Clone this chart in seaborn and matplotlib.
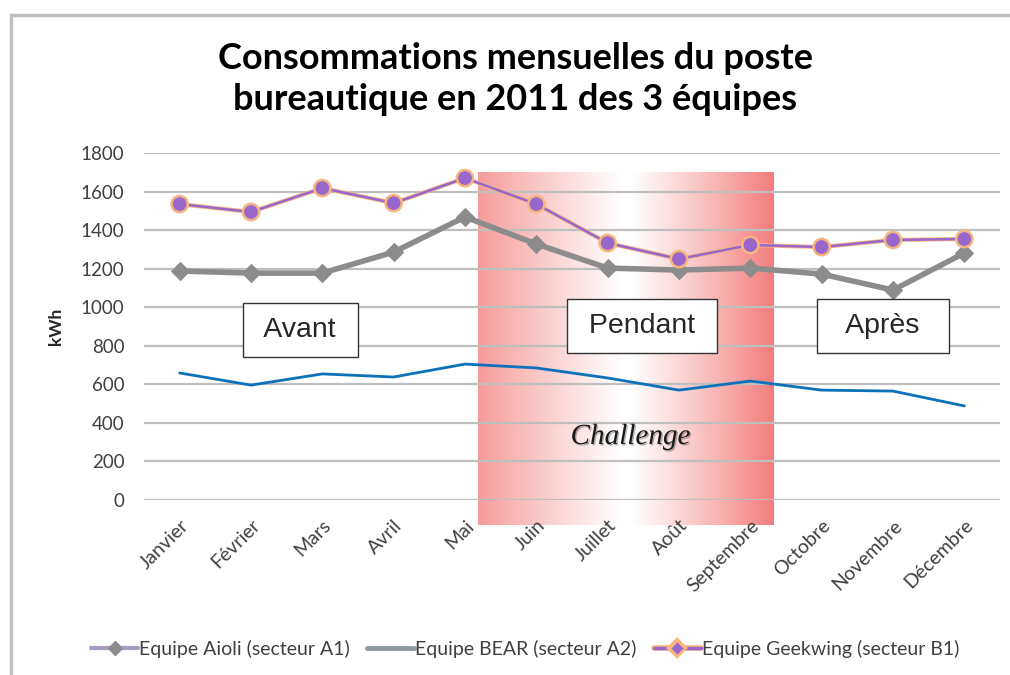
import numpy as np
import pandas as pd
import matplotlib
matplotlib.use("Agg")
import matplotlib.pyplot as plt
import matplotlib.patheffects as pe
from matplotlib.patches import Rectangle
from matplotlib.lines import Line2D
import seaborn as sns

MONTHS = ["Janvier", "Février", "Mars", "Avril", "Mai", "Juin", "Juillet",
          "Août", "Septembre", "Octobre", "Novembre", "Décembre"]
AIOLI = [1188, 1177, 1177, 1286, 1468, 1328, 1203, 1193, 1203, 1172, 1089, 1281]
BEAR = [659, 596, 654, 638, 705, 685, 633, 570, 617, 570, 565, 488]
GEEKWING = [1535, 1494, 1618, 1540, 1670, 1535, 1333, 1250, 1323, 1312, 1349, 1354]
LABELS = ["Equipe Aioli (secteur A1)", "Equipe BEAR (secteur A2)",
          "Equipe Geekwing (secteur B1)"]
Y_TICKS = [0, 200, 400, 600, 800, 1000, 1200, 1400, 1600, 1800]
CHALLENGE_START = "Mai"
CHALLENGE_END = "Septembre"

sns.set_style("white")
plt.rcParams["font.family"] = ["Lato", "DejaVu Sans"]

df = pd.DataFrame({"mois": np.arange(len(MONTHS)), "aioli": AIOLI,
                   "bear": BEAR, "geekwing": GEEKWING})

fig = plt.figure(figsize=(10.1, 6.75), dpi=100)
ax = fig.add_axes([144 / 1010, 175 / 675, 856 / 1010, 347 / 675])

# outer frame of the original chart
fig.patches.append(Rectangle((11 / 1010, -0.1), 1.2, 1 - 15 / 675 + 0.1,
                             transform=fig.transFigure, fill=False,
                             ec="#BFBFBF", lw=2.5))

# gradient band for the challenge period
x0 = MONTHS.index(CHALLENGE_START) + 0.18
x1 = MONTHS.index(CHALLENGE_END) + 0.32
t = np.linspace(0, 1, 400)
alpha = np.where(t < 0.49, 0.58 * (1 - t / 0.49) ** 1.1,
                 np.where(t > 0.51, 0.75 * ((t - 0.51) / 0.49) ** 1.1, 0))
rgba = np.zeros((1, len(t), 4))
rgba[..., 0] = 0.94
rgba[..., 1] = 0.32
rgba[..., 2] = 0.32
rgba[..., 3] = alpha
ax.imshow(rgba, extent=[x0, x1, -130, 1700], aspect="auto", zorder=0,
          clip_on=False, interpolation="bilinear")

orange = "#F7B77E"
sns.lineplot(data=df, x="mois", y="aioli", ax=ax, color="#8C8C8C", lw=4,
             marker="D", markersize=9, markeredgecolor="#8C8C8C", zorder=3)
sns.lineplot(data=df, x="mois", y="bear", ax=ax, color="#0B72B9", lw=2,
             zorder=3)
sns.lineplot(data=df, x="mois", y="geekwing", ax=ax, color="#9966CC", lw=1.8,
             marker="o", markersize=10.5, markeredgecolor=orange,
             markeredgewidth=0.6, zorder=4,
             path_effects=[pe.Stroke(linewidth=3.0, foreground=orange),
                           pe.Normal()])

ax.set_xlim(-0.5, len(MONTHS) - 0.5)
ax.set_ylim(0, 1800)
ax.set_yticks(Y_TICKS)
ax.set_xticks(df["mois"])
ax.set_xticklabels(MONTHS, rotation=45, ha="right", rotation_mode="anchor",
                   fontsize=14, color="#404040")
ax.tick_params(axis="y", labelsize=13.5, labelcolor="#404040", length=0, pad=14)
ax.tick_params(axis="x", length=0, pad=12)
ax.grid(axis="y", color="#BFBFBF", lw=1.6)
ax.set_axisbelow(True)
for s in ax.spines.values():
    s.set_visible(False)
ax.set_xlabel("")
ax.set_ylabel("kWh", fontsize=12.5, fontweight="bold", color="#262626",
              labelpad=12)

box = dict(boxstyle="square,pad=0.5", fc="white", ec="#333333", lw=1)
ax.text(1.69, 882, " Avant ", fontsize=20.5, ha="center", va="center",
        family=["Liberation Sans"], bbox=box, zorder=5)
ax.text(6.48, 902, " Pendant ", fontsize=20.5, ha="center", va="center",
        family=["Liberation Sans"], bbox=box, zorder=5)
ax.text(9.86, 902, "  Après  ", fontsize=20.5, ha="center", va="center",
        family=["Liberation Sans"], bbox=box, zorder=5)
ax.text(6.32, 327, "Challenge", fontsize=21, ha="center", va="center",
        family=["Liberation Serif"], style="italic", color="#1A1A1A", zorder=5,
        path_effects=[pe.withSimplePatchShadow(offset=(1, -1), alpha=0.3)])

fig.text(0.51, 1 - 79 / 675,
         "Consommations mensuelles du poste\nbureautique en 2011 des 3 équipes",
         ha="center", va="center", fontsize=26, fontweight="bold",
         color="#000000", linespacing=1.3)

handles = [
    Line2D([], [], color="#A99BC4", lw=3, marker="D", markersize=7,
           markerfacecolor="#8C8C8C", markeredgecolor="#8C8C8C"),
    Line2D([], [], color="#8C9AA0", lw=3.5),
    Line2D([], [], color="#9966CC", lw=2.5, marker="D", markersize=7,
           markeredgecolor=orange,
           path_effects=[pe.Stroke(linewidth=4, foreground=orange), pe.Normal()]),
]
fig.legend(handles, LABELS, loc="center", ncol=3,
           bbox_to_anchor=(0.52, 1 - 649 / 675), frameon=False,
           fontsize=14, labelcolor="#404040", handlelength=2.4,
           handletextpad=0.05, columnspacing=0.9)

fig.savefig("out.png", dpi=100)
